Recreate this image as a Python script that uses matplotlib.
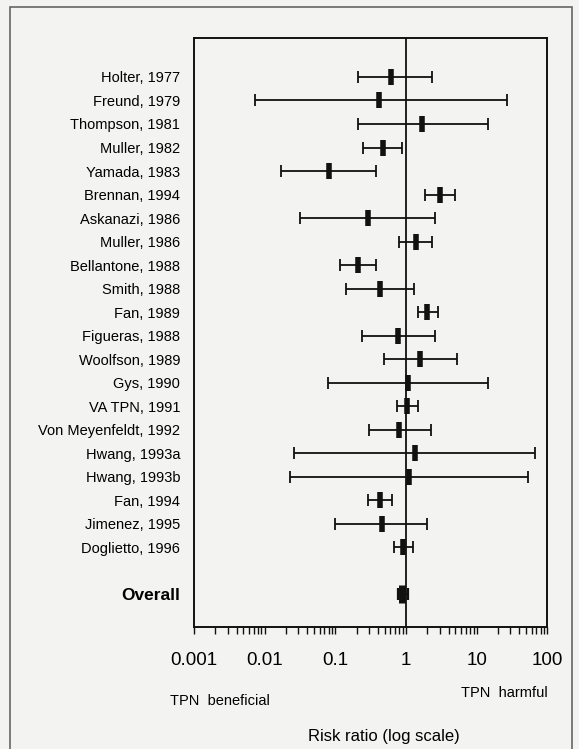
import numpy as np
import matplotlib
matplotlib.use('Agg')
import matplotlib.pyplot as plt
from matplotlib.patches import Rectangle
from matplotlib.ticker import LogLocator, NullFormatter, FixedLocator, FixedFormatter

plt.rcParams['font.family'] = ['Liberation Sans', 'DejaVu Sans']

# studies, point estimate and 95% CI of risk ratio
studies = ['Holter, 1977', 'Freund, 1979', 'Thompson, 1981', 'Muller, 1982',
           'Yamada, 1983', 'Brennan, 1994', 'Askanazi, 1986', 'Muller, 1986',
           'Bellantone, 1988', 'Smith, 1988', 'Fan, 1989', 'Figueras, 1988',
           'Woolfson, 1989', 'Gys, 1990', 'VA TPN, 1991', 'Von Meyenfeldt, 1992',
           'Hwang, 1993a', 'Hwang, 1993b', 'Fan, 1994', 'Jimenez, 1995',
           'Doglietto, 1996']
rr = [0.62, 0.42, 1.70, 0.47, 0.080, 3.0, 0.29, 1.38, 0.21, 0.43, 2.0,
      0.77, 1.60, 1.05, 1.02, 0.80, 1.33, 1.11, 0.43, 0.45, 0.91]
lo = [0.21, 0.0072, 0.21, 0.25, 0.017, 1.85, 0.032, 0.80, 0.115, 0.14, 1.46,
      0.24, 0.49, 0.078, 0.74, 0.30, 0.026, 0.023, 0.29, 0.10, 0.68]
hi = [2.3, 27, 14.3, 0.88, 0.37, 5.0, 2.6, 2.35, 0.37, 1.31, 2.85,
      2.57, 5.3, 14.6, 1.48, 2.25, 66, 53, 0.63, 1.96, 1.24]

overall_rr = 0.88
overall_lo = 0.78
overall_hi = 1.07

xticks = [0.001, 0.01, 0.1, 1, 10, 100]
xtick_labels = ['0.001', '0.01', '0.1', '1', '10', '100']

bg = '#f3f3f1'
fig = plt.figure(figsize=(5.79, 7.49), dpi=100, facecolor=bg)
ax = fig.add_axes([0.335, 0.1629, 0.6105, 0.7864])
ax.set_facecolor(bg)

y = np.arange(len(studies))
y_all = 22

rr_a = np.array(rr)
err = [rr_a - np.array(lo), np.array(hi) - rr_a]
ax.errorbar(rr, y, xerr=err, fmt='none', ecolor='#111111', elinewidth=1.3,
            capsize=4, capthick=1.3)
ax.plot(rr, y, ls='none', marker='|', ms=12, mew=4, color='#111111')

ax.errorbar([overall_rr], [y_all],
            xerr=[[overall_rr - overall_lo], [overall_hi - overall_rr]],
            fmt='none', ecolor='#111111', elinewidth=1.6, capsize=4, capthick=1.6)
ax.plot([overall_rr], [y_all], ls='none', marker='|', ms=13, mew=5, color='#111111')

ax.axvline(1, color='#111111', lw=1.3, zorder=0)

ax.set_xscale('log')
ax.set_xlim(0.001, 100)
ax.set_ylim(23.4, -1.66)

ax.xaxis.set_major_locator(FixedLocator(xticks))
ax.xaxis.set_major_formatter(FixedFormatter(xtick_labels))
ax.xaxis.set_minor_locator(LogLocator(base=10, subs=np.arange(2, 10), numticks=20))
ax.xaxis.set_minor_formatter(NullFormatter())
ax.tick_params(axis='x', which='both', direction='out', length=5, width=1,
               labelsize=13.5, pad=13, color='#111111')

ax.set_yticks(list(y) + [y_all])
ax.set_yticklabels(studies + ['Overall'])
ax.tick_params(axis='y', length=0, pad=10, labelsize=10.5)
ax.get_yticklabels()[-1].set_fontweight('bold')
ax.get_yticklabels()[-1].set_fontsize(12.5)

for s in ax.spines.values():
    s.set_linewidth(1.4)
    s.set_color('#111111')

fig.text(170 / 579, 1 - 701 / 749, 'TPN  beneficial', fontsize=10.5,
         ha='left', va='center')
fig.text(548 / 579, 1 - 693 / 749, 'TPN  harmful', fontsize=10.5,
         ha='right', va='center')
fig.text(384 / 579, 1 - 736 / 749, 'Risk ratio (log scale)', fontsize=12,
         ha='center', va='center')

# outer frame of the figure panel
fig.patches.append(Rectangle((10 / 579, -0.02), 562 / 579, 1.0107, transform=fig.transFigure,
                             fill=False, edgecolor='#666666', lw=1.2))

fig.savefig('out.png', dpi=100, facecolor=bg)
